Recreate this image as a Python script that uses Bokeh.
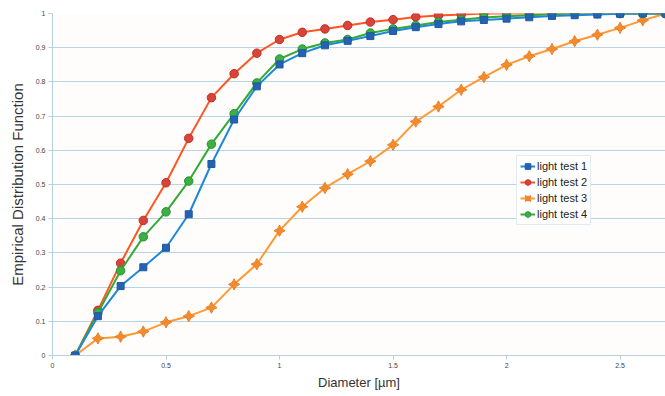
from bokeh.plotting import figure
from bokeh.models import Range1d, Legend, LegendItem, FixedTicker
from bokeh.embed import file_html
from bokeh.resources import INLINE
import math

diameter = [0.1, 0.2, 0.3, 0.4, 0.5, 0.6, 0.7, 0.8, 0.9, 1.0, 1.1, 1.2, 1.3, 1.4,
            1.5, 1.6, 1.7, 1.8, 1.9, 2.0, 2.1, 2.2, 2.3, 2.4, 2.5, 2.6, 2.7]

test1 = [0.0, 0.115, 0.203, 0.258, 0.315, 0.413, 0.56, 0.69, 0.787, 0.851, 0.884, 0.907, 0.92,
         0.934, 0.949, 0.96, 0.969, 0.977, 0.981, 0.985, 0.989, 0.993, 0.995, 0.997, 0.999, 1.0, 1.0]
test2 = [0.0, 0.132, 0.27, 0.395, 0.505, 0.635, 0.754, 0.824, 0.884, 0.924, 0.945, 0.955, 0.965,
         0.975, 0.982, 0.99, 0.994, 0.997, 1.0, 1.0, 1.0, 1.0, 1.0, 1.0, 1.0, 1.0, 1.0]
test3 = [0.0, 0.05, 0.055, 0.07, 0.097, 0.115, 0.14, 0.208, 0.267, 0.365, 0.435, 0.49, 0.53,
         0.568, 0.616, 0.684, 0.728, 0.777, 0.814, 0.85, 0.875, 0.896, 0.919, 0.938, 0.958, 0.98, 1.0]
test4 = [0.0, 0.125, 0.248, 0.347, 0.42, 0.51, 0.618, 0.707, 0.797, 0.867, 0.896, 0.914, 0.924,
         0.943, 0.955, 0.965, 0.975, 0.982, 0.988, 0.992, 0.995, 0.998, 1.0, 1.0, 1.0, 1.0, 1.0]

x_ticks = [0, 0.5, 1, 1.5, 2, 2.5]
y_ticks = [0, 0.1, 0.2, 0.3, 0.4, 0.5, 0.6, 0.7, 0.8, 0.9, 1.0]

p = figure(width=665, height=392, output_backend="svg", toolbar_location=None,
           x_range=Range1d(0, 2.7), y_range=Range1d(0, 1.0),
           min_border_left=52, min_border_right=0, min_border_top=13, min_border_bottom=30)
p.outline_line_color = None
p.background_fill_color = "#fffdfc"
p.border_fill_color = "white"

p.xaxis.ticker = FixedTicker(ticks=x_ticks)
p.yaxis.ticker = FixedTicker(ticks=y_ticks)
p.xaxis.major_label_overrides = {0: "0", 0.5: "0.5", 1: "1", 1.5: "1.5", 2: "2", 2.5: "2.5"}
p.yaxis.major_label_overrides = {0: "0", 1.0: "1"}
for ax in (p.xaxis, p.yaxis):
    ax.axis_line_color = "#b8cfe0"
    ax.major_tick_line_color = "#b8cfe0"
    ax.major_tick_out = 4
    ax.major_tick_in = 0
    ax.minor_tick_line_color = None
    ax.major_label_text_font = "Liberation Sans"
    ax.major_label_text_font_size = "7px"
    ax.major_label_text_color = "#444444"
    ax.major_label_standoff = 3
    ax.axis_label_text_font = "Liberation Sans"
    ax.axis_label_text_font_style = "normal"
    ax.axis_label_text_color = "#333333"
p.xaxis.axis_label_text_font_size = "13px"
p.yaxis.axis_label_text_font_size = "15px"
p.xaxis.axis_label = "Diameter [µm]"
p.yaxis.axis_label = "Empirical Distribution Function"
p.xaxis.axis_label_standoff = 4
p.yaxis.axis_label_standoff = 7
p.xgrid.grid_line_color = None
p.ygrid.grid_line_color = "#b8d3e6"
p.ygrid.grid_line_width = 1

r1l = p.line(diameter, test1, line_color="#1e88d8", line_width=2)
r1m = p.scatter(diameter, test1, marker="square", size=7, fill_color="#2563b0", line_color="#1e5aa0")
r2l = p.line(diameter, test2, line_color="#ff5522", line_width=2)
r2m = p.scatter(diameter, test2, marker="circle", size=8.5, fill_color="#d9443a", line_color="#c03028")
r3l = p.line(diameter, test3, line_color="#ff9933", line_width=2)
r3m = p.scatter(diameter, test3, marker="square_pin", size=8, angle=math.pi / 4,
                fill_color="#f58a2a", line_color="#e87a20")
r4l = p.line(diameter, test4, line_color="#33aa33", line_width=2)
r4m = p.scatter(diameter, test4, marker="circle", size=8.5, fill_color="#3cb043", line_color="#2a9030")

# draw order: test1 on top like the reference
for r in (r1l, r1m):
    p.renderers.remove(r)
    p.renderers.append(r)

legend = Legend(items=[
    LegendItem(label="light test 1", renderers=[r1l, r1m]),
    LegendItem(label="light test 2", renderers=[r2l, r2m]),
    LegendItem(label="light test 3", renderers=[r3l, r3m]),
    LegendItem(label="light test 4", renderers=[r4l, r4m]),
], location=(464, 130))
legend.label_text_font = "Liberation Sans"
legend.label_text_font_size = "11px"
legend.label_text_color = "#222222"
legend.glyph_width = 15
legend.glyph_height = 14
legend.label_height = 14
legend.spacing = 2
legend.padding = 3
legend.margin = 0
legend.label_standoff = 2
legend.border_line_color = "#c8d8e4"
legend.background_fill_color = "white"
p.add_layout(legend, "center")

open("out.html", "w").write(file_html(p, INLINE))
